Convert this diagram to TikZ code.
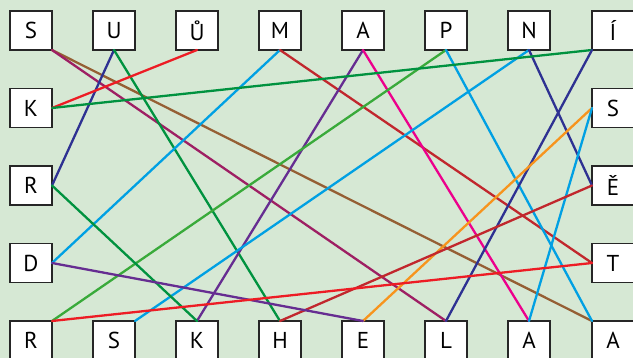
\documentclass[tikz,border=0pt]{standalone}
\usepackage{fontspec}
\setmainfont{PT Sans}
\definecolor{bg}{HTML}{D6E8D4}
\definecolor{cbrown}{HTML}{955F34}
\definecolor{cplum}{HTML}{9E1F63}
\definecolor{cnavy}{HTML}{2E3192}
\definecolor{cdkgreen}{HTML}{00923F}
\definecolor{cred}{HTML}{ED1C24}
\definecolor{ccyan}{HTML}{00A0E3}
\definecolor{ccrimson}{HTML}{C1272D}
\definecolor{cpurple}{HTML}{662D91}
\definecolor{cpink}{HTML}{EC008C}
\definecolor{cltgreen}{HTML}{39AA3A}
\definecolor{corange}{HTML}{F7941D}
\tikzset{
  letterbox/.style={draw=black!85, line width=1.4pt, fill=white, minimum width=42pt, minimum height=39pt, inner sep=0pt, outer sep=0pt, font=\fontsize{23}{23}\selectfont},
  conn/.style={line width=2.3pt, line cap=round}
}
\begin{document}
\begin{tikzpicture}[x=1pt,y=-1pt]
\useasboundingbox (0,0) rectangle (633,358);
\clip (0,0) rectangle (633,358);
\fill[bg] (0,0) rectangle (633,358);
\path
  (31,30.5) node[letterbox] (tS) {S}
  (114,30.5) node[letterbox] (tU) {U}
  (197,30.5) node[letterbox] (tUr) {Ů}
  (280,30.5) node[letterbox] (tM) {M}
  (363,30.5) node[letterbox] (tA) {A}
  (446,30.5) node[letterbox] (tP) {P}
  (529,30.5) node[letterbox] (tN) {N}
  (613,30.5) node[letterbox] (tI) {Í}
  (31,108) node[letterbox] (lK) {K}
  (31,185.5) node[letterbox] (lR) {R}
  (31,263) node[letterbox] (lD) {D}
  (613,108) node[letterbox] (rS) {S}
  (613,185.5) node[letterbox] (rE) {Ě}
  (613,263) node[letterbox] (rT) {T}
  (31,340.5) node[letterbox] (bR) {R}
  (114,340.5) node[letterbox] (bS) {S}
  (197,340.5) node[letterbox] (bK) {K}
  (280,340.5) node[letterbox] (bH) {H}
  (363,340.5) node[letterbox] (bE) {E}
  (446,340.5) node[letterbox] (bL) {L}
  (529,340.5) node[letterbox] (bA) {A}
  (613,340.5) node[letterbox] (bAA) {A};
\draw[conn, cbrown] (tS.south east) -- (bAA.north west);
\draw[conn, cplum] (tS.south east) -- (bL.north);
\draw[conn, cnavy] (tU.south) -- (lR.east);
\draw[conn, cdkgreen] (tU.south) -- (bH.north);
\draw[conn, cred] (tUr.south) -- (lK.east);
\draw[conn, ccyan] (tM.south) -- (lD.east);
\draw[conn, ccrimson] (tM.south) -- (rT.west);
\draw[conn, cpurple] (tA.south) -- (bK.north);
\draw[conn, cpink] (tA.south) -- (bA.north);
\draw[conn, cltgreen] (tP.south) -- (bR.north east);
\draw[conn, ccyan] (tP.south) -- (bAA.north west);
\draw[conn, ccyan] (tN.south) -- (bS.north east);
\draw[conn, cnavy] (tN.south) -- (rE.west);
\draw[conn, cdkgreen] (tI.south west) -- (lK.east);
\draw[conn, cnavy] (tI.south west) -- (bL.north);
\draw[conn, corange] (rS.west) -- (bE.north);
\draw[conn, ccyan] (rS.west) -- (bA.north);
\draw[conn, ccrimson] (rE.west) -- (bH.north);
\draw[conn, cdkgreen] (lR.east) -- (bK.north);
\draw[conn, cpurple] (lD.east) -- (bE.north);
\draw[conn, cred] (bR.north east) -- (rT.west);
\end{tikzpicture}
\end{document}
